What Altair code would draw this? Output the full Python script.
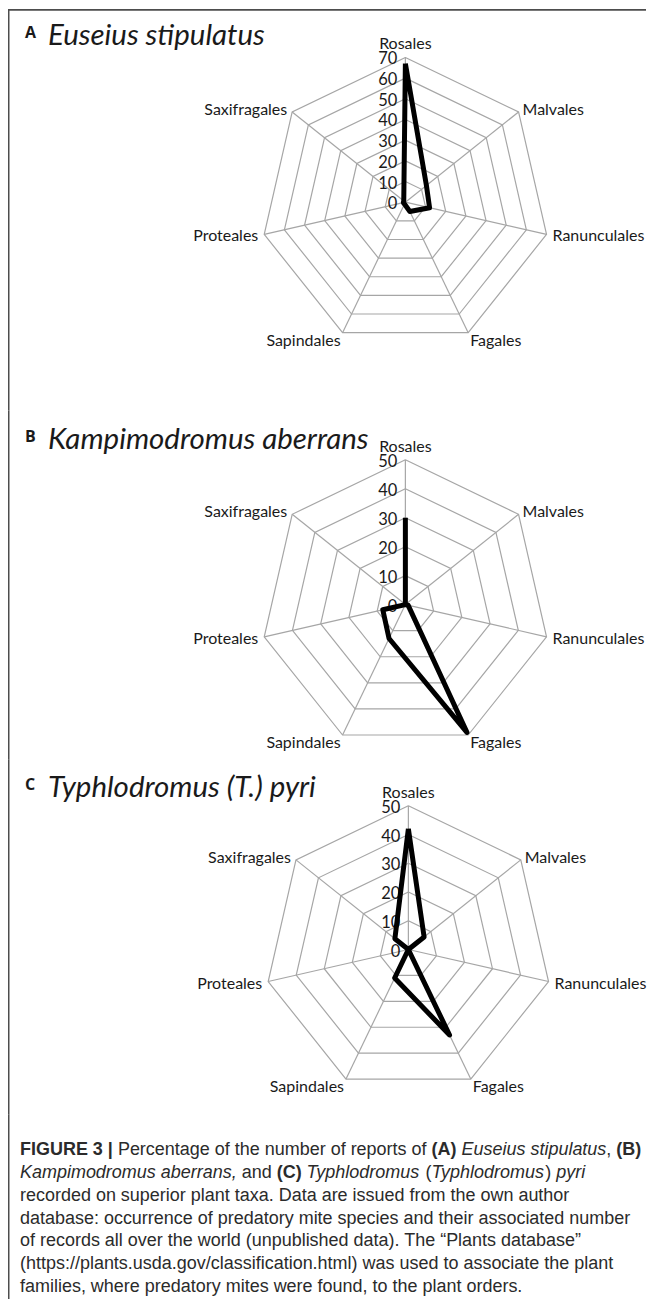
import altair as alt
import pandas as pd

# ---------------- data ----------------
categories = ["Rosales", "Malvales", "Ranunculales", "Fagales",
              "Sapindales", "Proteales", "Saxifragales"]
values_a = [67, 13, 12, 5, 1, 1, 1]
values_b = [30, 0, 1, 49, 13, 8, 0]
values_c = [42, 7, 0, 33, 11, 0, 6]
levels_a = [0, 10, 20, 30, 40, 50, 60, 70]
levels_b = [0, 10, 20, 30, 40, 50]
levels_c = [0, 10, 20, 30, 40, 50]
letters = ["A", "B", "C"]
species = ["Euseius stipulatus", "Kampimodromus aberrans", "Typhlodromus (T.) pyri"]

caption_segments = [
    # (line, text, style, space before)
    (0, "FIGURE 3 |", "bold", False),
    (0, "Percentage of the number of reports of", "normal", True),
    (0, "(A)", "bold", True),
    (0, "Euseius stipulatus", "italic", True),
    (0, ",", "normal", False),
    (0, "(B)", "bold", True),
    (1, "Kampimodromus aberrans,", "italic", False),
    (1, "and", "normal", True),
    (1, "(C)", "bold", True),
    (1, "Typhlodromus", "italic", True),
    (1, "(", "normal", True),
    (1, "Typhlodromus", "italic", False),
    (1, ")", "normal", False),
    (1, "pyri", "italic", True),
    (2, "recorded on superior plant taxa. Data are issued from the own author", "normal", False),
    (3, "database: occurrence of predatory mite species and their associated number", "normal", False),
    (4, "of records all over the world (unpublished data). The \u201cPlants database\u201d", "normal", False),
    (5, "(https://plants.usda.gov/classification.html) was used to associate the plant", "normal", False),
    (6, "families, where predatory mites were found, to the plant orders.", "normal", False),
]

# ---------------- layout / style ----------------
PANEL_W = 639
LAYOUT = [
    dict(h=402, cx=398, cy=193.5, r=145, title_y=36.5),
    dict(h=350, cx=398, cy=194.5, r=145, title_y=39),
    dict(h=355, cx=401, cy=190, r=144, title_y=37),
]
CAPTION_H = 185
CAPTION_X0 = 12
CAPTION_Y0 = 41
CAPTION_DY = 22.8
CAPTION_SIZE = 18

FONT = "Lato"
TXT = "#1a1a1a"
GRID = "#a6a6a6"
FRAME = "#4d4d4d"

label_style = {
    "Rosales": dict(align="center", baseline="bottom", dx=0, dy=-5),
    "Malvales": dict(align="left", baseline="middle", dx=4, dy=-2),
    "Ranunculales": dict(align="left", baseline="middle", dx=6, dy=2),
    "Fagales": dict(align="left", baseline="top", dx=2, dy=0),
    "Sapindales": dict(align="right", baseline="top", dx=-2, dy=0),
    "Proteales": dict(align="right", baseline="middle", dx=-6, dy=2),
    "Saxifragales": dict(align="right", baseline="middle", dx=-5, dy=-2),
}

# approximate Arial/Liberation Sans advance widths (per 1000 em) for caption layout
_W = {" ": 278, "(": 333, ")": 333, ",": 278, ".": 278, "|": 260, "3": 556,
      "a": 556, "b": 556, "c": 500, "d": 556, "e": 556, "f": 278, "g": 556, "h": 556,
      "i": 222, "j": 222, "k": 500, "l": 222, "m": 833, "n": 556, "o": 556, "p": 556,
      "q": 556, "r": 333, "s": 500, "t": 278, "u": 556, "v": 500, "w": 722, "x": 500,
      "y": 500, "z": 500, "A": 667, "B": 667, "C": 722, "E": 667, "F": 611, "G": 778,
      "I": 278, "K": 667, "P": 667, "R": 722, "T": 611, "U": 722}
_WB = {" ": 278, "(": 333, ")": 333, "|": 280, "3": 556, "A": 722, "B": 722, "C": 722,
       "E": 667, "F": 611, "G": 778, "I": 278, "R": 722, "U": 722}


def text_w(t, style):
    tab = _WB if style == "bold" else _W
    return sum(tab.get(ch, 556) for ch in t) * CAPTION_SIZE / 1000.0


cap_x = []
cur = {}
for line, txt, style, sp in caption_segments:
    x = cur.get(line, CAPTION_X0)
    if sp:
        x += _W[" "] * CAPTION_SIZE / 1000.0
    cap_x.append(x)
    cur[line] = x + text_w(txt, style)

ANG = "2 * PI * datum.idx / 7"
one = pd.DataFrame({"a": [0]})


def frame_left(h):
    return alt.Chart(one).mark_rect(color=FRAME).encode(
        x=alt.value(0), x2=alt.value(1.5), y=alt.value(0), y2=alt.value(h))


def radar(values, levels, lay, letter, name, top_border):
    vmax = levels[-1]
    k = lay["r"] / vmax
    xs = alt.Scale(domain=[-lay["cx"] / k, (PANEL_W - lay["cx"]) / k], nice=False, zero=False)
    ys = alt.Scale(domain=[-(lay["h"] - lay["cy"]) / k, lay["cy"] / k], nice=False, zero=False)

    def X(f):
        return alt.X(f, type="quantitative", scale=xs, axis=None)

    def Y(f):
        return alt.Y(f, type="quantitative", scale=ys, axis=None)

    ring_df = pd.DataFrame([{"level": lv, "idx": i} for lv in levels[1:] for i in range(8)])
    rings = alt.Chart(ring_df).transform_calculate(
        x=f"datum.level * sin({ANG})", y=f"datum.level * cos({ANG})"
    ).mark_line(color=GRID, strokeWidth=1.2).encode(
        x=X("x"), y=Y("y"), detail="level:N", order="idx:Q"
    )

    spoke_df = pd.DataFrame({"idx": list(range(7)), "level": [vmax] * 7})
    spokes = alt.Chart(spoke_df).transform_calculate(
        x=f"datum.level * sin({ANG})", y=f"datum.level * cos({ANG})", x0="0", y0="0"
    ).mark_rule(color=GRID, strokeWidth=1.2).encode(
        x=X("x0"), y=Y("y0"), x2="x:Q", y2="y:Q"
    )

    tick_df = pd.DataFrame({"level": levels})
    ticks = alt.Chart(tick_df).transform_calculate(x0="0").mark_text(
        align="right", baseline="middle", dx=-8, dy=2, font=FONT, fontSize=16.5, color=TXT
    ).encode(x=X("x0"), y=Y("level"), text="level:Q")

    lab_df = pd.DataFrame({"idx": list(range(7)), "cat": categories, "level": [vmax] * 7})
    lab_layers = []
    for cat in categories:
        st = label_style[cat]
        lab_layers.append(
            alt.Chart(lab_df).transform_filter(alt.datum.cat == cat).transform_calculate(
                x=f"datum.level * sin({ANG})", y=f"datum.level * cos({ANG})"
            ).mark_text(font=FONT, fontSize=16, color=TXT, **st).encode(
                x=X("x"), y=Y("y"), text="cat:N"
            )
        )

    line_df = pd.DataFrame({"idx": list(range(8)),
                            "value": [values[i % 7] for i in range(8)]})
    poly = alt.Chart(line_df).transform_calculate(
        x=f"datum.value * sin({ANG})", y=f"datum.value * cos({ANG})"
    ).mark_line(color="black", strokeWidth=5, strokeJoin="round").encode(
        x=X("x"), y=Y("y"), order="idx:Q"
    )

    tdf = pd.DataFrame({"letter": [letter], "name": [name]})
    t_letter = alt.Chart(tdf).mark_text(
        align="left", baseline="alphabetic", font="Open Sans", fontWeight="bold",
        fontSize=16, color=TXT
    ).encode(x=alt.value(17), y=alt.value(lay["title_y"] - 7), text="letter:N")
    t_name = alt.Chart(tdf).mark_text(
        align="left", baseline="alphabetic", font=FONT, fontStyle="italic",
        fontSize=29.5, color=TXT
    ).encode(x=alt.value(40), y=alt.value(lay["title_y"]), text="name:N")

    layers = [rings, spokes, ticks] + lab_layers + [poly, t_letter, t_name, frame_left(lay["h"])]
    if top_border:
        top = alt.Chart(one).mark_rect(color=FRAME).encode(
            x=alt.value(0), x2=alt.value(PANEL_W), y=alt.value(0), y2=alt.value(1.8))
        layers.append(top)
    return alt.layer(*layers).properties(width=PANEL_W, height=lay["h"])


panels = [
    radar(values_a, levels_a, LAYOUT[0], letters[0], species[0], True),
    radar(values_b, levels_b, LAYOUT[1], letters[1], species[1], False),
    radar(values_c, levels_c, LAYOUT[2], letters[2], species[2], False),
]

cap_df = pd.DataFrame({
    "line": [s[0] for s in caption_segments],
    "text": [s[1] for s in caption_segments],
    "style": [s[2] for s in caption_segments],
    "xp": cap_x,
})
cap_base = alt.Chart(cap_df).transform_calculate(
    yp=f"{CAPTION_Y0} + datum.line * {CAPTION_DY}")
cap_layers = []
for style, kw in [("normal", {}), ("bold", {"fontWeight": "bold"}),
                  ("italic", {"fontStyle": "italic"})]:
    cap_layers.append(
        cap_base.transform_filter(alt.datum.style == style).mark_text(
            align="left", baseline="alphabetic", font="Liberation Sans",
            fontSize=CAPTION_SIZE, color="#2b2b2b", **kw
        ).encode(
            x=alt.X("xp:Q", scale=None, axis=None),
            y=alt.Y("yp:Q", scale=None, axis=None),
            text="text:N",
        )
    )
caption = alt.layer(*cap_layers, frame_left(CAPTION_H)).properties(
    width=PANEL_W, height=CAPTION_H)

chart = alt.vconcat(*panels, caption, spacing=0).properties(
    padding=0
).configure_view(stroke=None)

chart.save("out.html", embed_options={"renderer": "svg", "actions": False})
